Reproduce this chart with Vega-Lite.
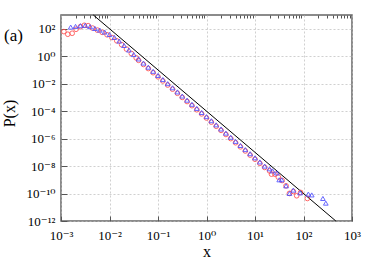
{
  "$schema": "https://vega.github.io/schema/vega-lite/v6.json",
  "width": 291,
  "height": 206,
  "autosize": "none",
  "padding": {"left": 61, "top": 15, "right": 22, "bottom": 41},
  "background": "white",
  "config": {
    "font": "Liberation Serif",
    "view": {"stroke": "#666666", "strokeWidth": 1.5},
    "axis": {
      "domain": false,
      "labelFont": "Liberation Serif, DejaVu Serif, serif",
      "labelFontSize": 13,
      "labelColor": "#000000",
      "tickColor": "#555555",
      "gridColor": "#bbbbbb",
      "gridDash": [2, 2],
      "gridWidth": 0.7,
      "titleFont": "Liberation Serif",
      "titleFontSize": 16,
      "titleFontWeight": "normal",
      "titleColor": "#000000"
    }
  },
  "title": {
    "text": "(a)",
    "anchor": "start",
    "frame": "group",
    "orient": "top",
    "offset": 0,
    "baseline": "alphabetic",
    "fontSize": 17,
    "fontWeight": "normal",
    "font": "Liberation Serif",
    "color": "#000000",
    "dx": -57,
    "dy": 45
  },
  "datasets": {
    "fit": [
      {"x": 0.004642, "y": 1000},
      {"x": 464.2, "y": 1e-12}
    ],
    "pts": [
      {"s": "a", "x": 0.001148, "y": 61.7},
      {"s": "a", "x": 0.001380, "y": 39.8},
      {"s": "a", "x": 0.001698, "y": 46.8},
      {"s": "a", "x": 0.002042, "y": 91.2},
      {"s": "a", "x": 0.002512, "y": 141.3},
      {"s": "a", "x": 0.003020, "y": 177.8},
      {"s": "a", "x": 0.003631, "y": 166.0},
      {"s": "a", "x": 0.004467, "y": 112.2},
      {"s": "a", "x": 0.005623, "y": 79.4},
      {"s": "a", "x": 0.007079, "y": 55.0},
      {"s": "a", "x": 0.008913, "y": 36.3},
      {"s": "a", "x": 0.01122, "y": 22.9},
      {"s": "a", "x": 0.01413, "y": 13.2},
      {"s": "a", "x": 0.01778, "y": 6.92},
      {"s": "a", "x": 0.02239, "y": 3.31},
      {"s": "a", "x": 0.02818, "y": 1.585},
      {"s": "a", "x": 0.03548, "y": 0.759},
      {"s": "a", "x": 0.03981, "y": 0.501},
      {"s": "a", "x": 0.05012, "y": 0.251},
      {"s": "a", "x": 0.06310, "y": 0.1259},
      {"s": "a", "x": 0.07943, "y": 0.0631},
      {"s": "a", "x": 0.1, "y": 0.0316},
      {"s": "a", "x": 0.1259, "y": 0.01585},
      {"s": "a", "x": 0.1585, "y": 7.94e-3},
      {"s": "a", "x": 0.1995, "y": 3.98e-3},
      {"s": "a", "x": 0.2512, "y": 2.0e-3},
      {"s": "a", "x": 0.3162, "y": 1.0e-3},
      {"s": "a", "x": 0.3981, "y": 5.01e-4},
      {"s": "a", "x": 0.5012, "y": 2.51e-4},
      {"s": "a", "x": 0.6310, "y": 1.26e-4},
      {"s": "a", "x": 0.7943, "y": 6.31e-5},
      {"s": "a", "x": 1.0, "y": 3.16e-5},
      {"s": "a", "x": 1.259, "y": 1.585e-5},
      {"s": "a", "x": 1.585, "y": 7.94e-6},
      {"s": "a", "x": 1.995, "y": 3.98e-6},
      {"s": "a", "x": 2.512, "y": 2.0e-6},
      {"s": "a", "x": 3.162, "y": 1.0e-6},
      {"s": "a", "x": 3.981, "y": 5.01e-7},
      {"s": "a", "x": 5.012, "y": 2.51e-7},
      {"s": "a", "x": 6.310, "y": 1.26e-7},
      {"s": "a", "x": 7.943, "y": 6.31e-8},
      {"s": "a", "x": 10.0, "y": 3.16e-8},
      {"s": "a", "x": 12.59, "y": 1.585e-8},
      {"s": "a", "x": 15.85, "y": 7.94e-9},
      {"s": "a", "x": 19.95, "y": 4.47e-9},
      {"s": "a", "x": 21.9, "y": 2.57e-9},
      {"s": "a", "x": 25.7, "y": 2.57e-9},
      {"s": "a", "x": 30.2, "y": 1.58e-9},
      {"s": "a", "x": 36.3, "y": 8.9e-10},
      {"s": "a", "x": 43.7, "y": 3.63e-10},
      {"s": "a", "x": 51.3, "y": 1.02e-10},
      {"s": "a", "x": 61.7, "y": 1.41e-10},
      {"s": "a", "x": 72.4, "y": 6.9e-11},
      {"s": "a", "x": 87.1, "y": 1.2e-10},
      {"s": "a", "x": 120.2, "y": 4.37e-11},
      {"s": "b", "x": 0.001585, "y": 131.8},
      {"s": "b", "x": 0.001995, "y": 147.9},
      {"s": "b", "x": 0.002512, "y": 166.0},
      {"s": "b", "x": 0.003162, "y": 177.8},
      {"s": "b", "x": 0.003981, "y": 141.3},
      {"s": "b", "x": 0.005012, "y": 104.7},
      {"s": "b", "x": 0.006310, "y": 79.4},
      {"s": "b", "x": 0.007943, "y": 57.5},
      {"s": "b", "x": 0.01, "y": 38.0},
      {"s": "b", "x": 0.01259, "y": 23.4},
      {"s": "b", "x": 0.01585, "y": 12.6},
      {"s": "b", "x": 0.01995, "y": 6.03},
      {"s": "b", "x": 0.02512, "y": 2.82},
      {"s": "b", "x": 0.03162, "y": 1.318},
      {"s": "b", "x": 0.03981, "y": 0.631},
      {"s": "b", "x": 0.05012, "y": 0.3162},
      {"s": "b", "x": 0.06310, "y": 0.1585},
      {"s": "b", "x": 0.07943, "y": 0.0794},
      {"s": "b", "x": 0.1, "y": 0.0398},
      {"s": "b", "x": 0.1259, "y": 0.01995},
      {"s": "b", "x": 0.1585, "y": 0.01},
      {"s": "b", "x": 0.1995, "y": 5.01e-3},
      {"s": "b", "x": 0.2512, "y": 2.51e-3},
      {"s": "b", "x": 0.3162, "y": 1.259e-3},
      {"s": "b", "x": 0.3981, "y": 6.31e-4},
      {"s": "b", "x": 0.5012, "y": 3.16e-4},
      {"s": "b", "x": 0.6310, "y": 1.585e-4},
      {"s": "b", "x": 0.7943, "y": 7.94e-5},
      {"s": "b", "x": 1.0, "y": 3.98e-5},
      {"s": "b", "x": 1.259, "y": 2.0e-5},
      {"s": "b", "x": 1.585, "y": 1.0e-5},
      {"s": "b", "x": 1.995, "y": 5.01e-6},
      {"s": "b", "x": 2.512, "y": 2.51e-6},
      {"s": "b", "x": 3.162, "y": 1.26e-6},
      {"s": "b", "x": 3.981, "y": 6.31e-7},
      {"s": "b", "x": 5.012, "y": 3.16e-7},
      {"s": "b", "x": 6.310, "y": 1.58e-7},
      {"s": "b", "x": 7.943, "y": 7.94e-8},
      {"s": "b", "x": 10.0, "y": 3.98e-8},
      {"s": "b", "x": 12.59, "y": 2.0e-8},
      {"s": "b", "x": 15.85, "y": 1.0e-8},
      {"s": "b", "x": 19.95, "y": 6.31e-9},
      {"s": "b", "x": 22.9, "y": 4.47e-9},
      {"s": "b", "x": 28.2, "y": 3.16e-9},
      {"s": "b", "x": 31.6, "y": 1.0e-9},
      {"s": "b", "x": 35.5, "y": 1.0e-9},
      {"s": "b", "x": 43.7, "y": 3.63e-10},
      {"s": "b", "x": 51.3, "y": 1.02e-10},
      {"s": "b", "x": 61.7, "y": 1.78e-10},
      {"s": "b", "x": 85.1, "y": 1.12e-10},
      {"s": "b", "x": 125.9, "y": 9.1e-11},
      {"s": "b", "x": 147.9, "y": 7.94e-11},
      {"s": "b", "x": 251.2, "y": 4.37e-11},
      {"s": "b", "x": 288.4, "y": 2.0e-11}
    ]
  },
  "encoding": {
    "y": {
      "field": "y",
      "type": "quantitative",
      "scale": {"type": "log", "domain": [1e-12, 1000], "nice": false},
      "axis": {
        "title": "P(x)",
        "titleX": -44,
        "titleY": 98,
        "titleAngle": -90,
        "titleBaseline": "bottom",
        "titleAlign": "center",
        "values": [1e-12, 1e-10, 1e-8, 1e-6, 1e-4, 0.01, 1, 100],
        "tickSize": -6,
        "labelPadding": 12,
        "grid": true,
        "labelExpr": "'10' + (datum.value < 1 ? '⁻' : '') + (abs(round(log(datum.value)/LN10)) >= 10 ? '¹' : '') + substring('⁰¹²³⁴⁵⁶⁷⁸⁹', abs(round(log(datum.value)/LN10)) % 10, abs(round(log(datum.value)/LN10)) % 10 + 1)"
      }
    }
  },
  "layer": [
    {
      "data": {"name": "fit"},
      "mark": {"type": "line", "color": "#000000", "strokeWidth": 1},
      "encoding": {
        "x": {
          "field": "x",
          "type": "quantitative",
          "scale": {"type": "log", "domain": [0.001, 1000], "nice": false},
          "axis": {
            "title": "x",
            "titleY": 35,
            "titleBaseline": "alphabetic",
            "values": [0.001, 0.01, 0.1, 1, 10, 100, 1000],
            "tickSize": -5,
            "labelPadding": 13,
            "grid": true,
            "labelFlush": false,
            "labelOverlap": false,
            "labelExpr": "'10' + (datum.value < 1 ? '⁻' : '') + (abs(round(log(datum.value)/LN10)) >= 10 ? '¹' : '') + substring('⁰¹²³⁴⁵⁶⁷⁸⁹', abs(round(log(datum.value)/LN10)) % 10, abs(round(log(datum.value)/LN10)) % 10 + 1)"
          }
        }
      }
    },
    {
      "data": {"name": "pts"},
      "mark": {"type": "point", "filled": false, "size": 22, "strokeWidth": 1, "opacity": 0.85},
      "encoding": {
        "x": {
          "field": "x",
          "type": "quantitative",
          "scale": {"type": "log", "domain": [0.001, 1000], "nice": false},
          "axis": {
            "title": null,
            "labels": false,
            "grid": false,
            "tickSize": -3,
            "values": [0.002, 0.003, 0.004, 0.005, 0.006, 0.007, 0.008, 0.009, 0.02, 0.03, 0.04, 0.05, 0.06, 0.07, 0.08, 0.09, 0.2, 0.3, 0.4, 0.5, 0.6, 0.7, 0.8, 0.9, 2, 3, 4, 5, 6, 7, 8, 9, 20, 30, 40, 50, 60, 70, 80, 90, 200, 300, 400, 500, 600, 700, 800, 900]
          }
        },
        "color": {
          "field": "s",
          "type": "nominal",
          "scale": {"domain": ["a", "b"], "range": ["#ff4d4d", "#4d4dff"]},
          "legend": null
        },
        "shape": {
          "field": "s",
          "type": "nominal",
          "scale": {"domain": ["a", "b"], "range": ["circle", "triangle-up"]},
          "legend": null
        }
      }
    }
  ],
  "resolve": {"axis": {"x": "independent"}}
}
